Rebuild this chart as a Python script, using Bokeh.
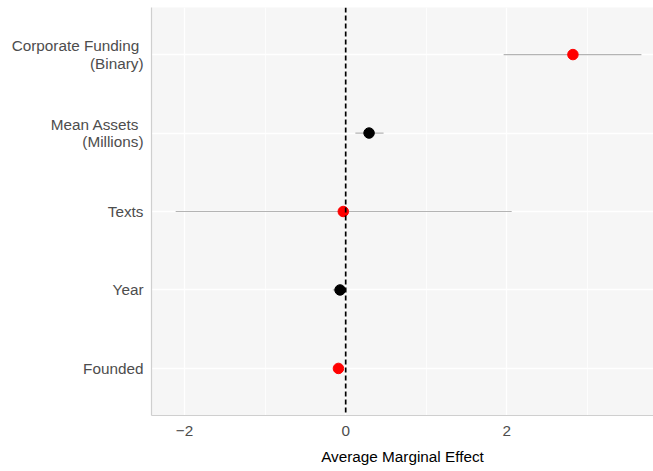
from bokeh.plotting import figure
from bokeh.models import FactorRange, Range1d, FixedTicker, Span, ColumnDataSource
from bokeh.embed import file_html
from bokeh.resources import INLINE

# ---- data (top to bottom as in the chart) ----
terms = ["Corporate Funding \n(Binary)", "Mean Assets \n(Millions)", "Texts", "Year", "Founded"]
estimate = [2.82, 0.29, -0.03, -0.07, -0.09]
lower = [1.96, 0.12, -2.11, -0.16, -0.12]
upper = [3.67, 0.47, 2.06, 0.01, -0.06]
highlight = [True, False, True, False, True]
x_ticks = [-2, 0, 2]
x_minor = [-1, 1, 3]
x_title = "Average Marginal Effect"

colors = ["#ff0000" if h else "#000000" for h in highlight]
src = ColumnDataSource(dict(term=terms, est=estimate, lo=lower, hi=upper, color=colors))

p = figure(
    y_range=FactorRange(factors=list(reversed(terms)), range_padding=0.1,
                        range_padding_units="absolute"),
    x_range=Range1d(-2.41, 3.82),
    frame_width=502, frame_height=408,
    output_backend="svg", toolbar_location=None,
    min_border_left=151, min_border_right=0, min_border_top=7, min_border_bottom=0,
)
p.background_fill_color = "#f6f6f6"
p.border_fill_color = "white"
p.outline_line_color = None

# grids
p.xgrid.grid_line_color = "white"
p.xgrid.grid_line_width = 1.4
p.xgrid.minor_grid_line_color = "white"
p.xgrid.minor_grid_line_width = 0.8
p.ygrid.grid_line_color = "white"
p.ygrid.grid_line_width = 1.4

# x axis
p.xaxis.ticker = FixedTicker(ticks=x_ticks, minor_ticks=x_minor)
p.xaxis.major_label_overrides = {t: (str(t).replace("-", "\u2212")) for t in x_ticks}
p.xaxis.major_tick_line_color = None
p.xaxis.minor_tick_line_color = None
p.xaxis.major_tick_out = 0
p.xaxis.major_tick_in = 0
p.xaxis.major_label_standoff = 6
p.xaxis.major_label_text_font = "Liberation Sans"
p.xaxis.major_label_text_font_size = "15.3px"
p.xaxis.major_label_text_color = "#4d4d4d"
p.xaxis.axis_line_color = "#cfcfcf"
p.xaxis.axis_line_width = 1.2
p.xaxis.axis_label = x_title
p.xaxis.axis_label_text_font = "Liberation Sans"
p.xaxis.axis_label_text_font_size = "15.3px"
p.xaxis.axis_label_text_font_style = "normal"
p.xaxis.axis_label_text_color = "black"
p.xaxis.axis_label_standoff = 9

# y axis
p.yaxis.major_tick_line_color = None
p.yaxis.minor_tick_line_color = None
p.yaxis.major_tick_out = 0
p.yaxis.major_tick_in = 0
p.yaxis.major_label_standoff = 8
p.yaxis.major_label_text_font = "Liberation Sans"
p.yaxis.major_label_text_font_size = "15.3px"
p.yaxis.major_label_text_line_height = 1.05
p.yaxis.major_label_text_color = "#4d4d4d"
p.yaxis.axis_line_color = "#cfcfcf"
p.yaxis.axis_line_width = 1.2

# marks
p.segment(x0="lo", y0="term", x1="hi", y1="term", source=src,
          line_color="#b4b4b4", line_width=1.2)
p.scatter(x="est", y="term", source=src, size=10.5, fill_color="color",
          line_color="color")
p.add_layout(Span(location=0, dimension="height", line_color="black",
                  line_width=1.7, line_dash="5 3"))

open("out.html", "w").write(file_html(p, INLINE))
